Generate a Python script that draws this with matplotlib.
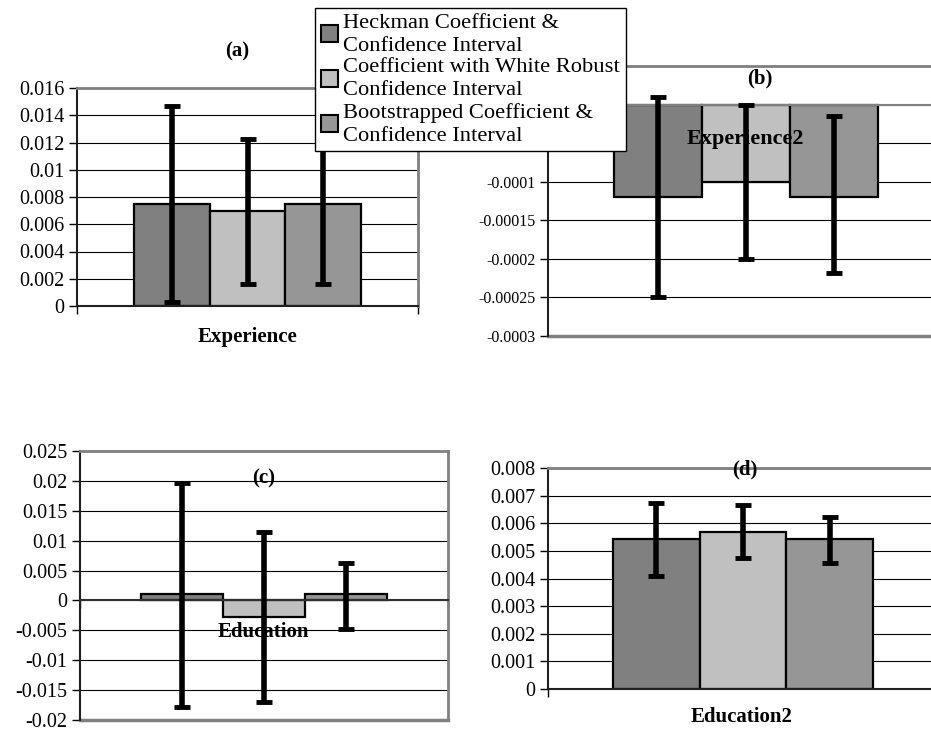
import numpy as np
import matplotlib
matplotlib.use('Agg')
import matplotlib.pyplot as plt
from matplotlib.ticker import MultipleLocator, FuncFormatter
from matplotlib.patches import Patch

series = ['Heckman Coefficient &\nConfidence Interval',
          'Coefficient with White Robust\nConfidence Interval',
          'Bootstrapped Coefficient &\nConfidence Interval']
colors = ['#808080', '#c0c0c0', '#969696']

# coefficient, lower bound, upper bound for each panel
exp_coef = [0.0075, 0.0070, 0.0075]
exp_lo = [0.00032, 0.00165, 0.00165]
exp_hi = [0.01468, 0.01228, 0.0131]

exp2_coef = [-0.00012, -0.00010, -0.00012]
exp2_lo = [-0.00025, -0.00020, -0.000218]
exp2_hi = [0.00001, 0.0, -0.000015]

edu_coef = [0.001, -0.0028, 0.001]
edu_lo = [-0.0178, -0.0170, -0.00485]
edu_hi = [0.0197, 0.01143, 0.0063]

edu2_coef = [0.00542, 0.00569, 0.00542]
edu2_lo = [0.0041, 0.00475, 0.00457]
edu2_hi = [0.00672, 0.00667, 0.00624]

W, H = 931, 729
plt.rcParams['font.family'] = ['Liberation Serif', 'DejaVu Serif']

fig = plt.figure(figsize=(W / 100, H / 100), dpi=100)


def px_axes(left, top, right, bottom):
    return fig.add_axes([left / W, 1 - bottom / H, (right - left) / W, (bottom - top) / H])


def fmt(v, pos):
    v = round(v, 7)
    if abs(v) < 1e-9:
        return '0'
    return np.format_float_positional(v, trim='-')


def panel(ax, coef, lo, hi, ylim, step, tick_size, zero_axis=False):
    x = np.array([-1.0, 0.0, 1.0])
    coef = np.array(coef)
    yerr = [coef - np.array(lo), np.array(hi) - coef]
    ax.bar(x, coef, width=1.0, color=colors, edgecolor='black', linewidth=1.6, zorder=2)
    ax.errorbar(x, coef, yerr=yerr, fmt='none', ecolor='black', elinewidth=4,
                capsize=6, capthick=3.5, zorder=3)
    ax.set_xlim(-2.25, 2.25)
    ax.set_ylim(*ylim)
    ax.yaxis.set_major_locator(MultipleLocator(step))
    ax.yaxis.set_major_formatter(FuncFormatter(fmt))
    ax.yaxis.grid(True, color='black', linewidth=0.8)
    ax.set_axisbelow(True)
    ax.tick_params(axis='y', direction='out', length=6, width=1, labelsize=tick_size, pad=3)
    ax.set_xticks([-2.25, 2.25])
    ax.set_xticklabels(['', ''])
    ax.tick_params(axis='x', direction='out', length=6, width=1)
    ax.spines['top'].set_color('#808080')
    ax.spines['top'].set_linewidth(2)
    ax.spines['right'].set_color('#808080')
    ax.spines['right'].set_linewidth(2)
    ax.spines['left'].set_color('#202020')
    ax.spines['left'].set_linewidth(1.5)
    if zero_axis:
        ax.spines['bottom'].set_position(('data', 0))
        ax.spines['bottom'].set_color('#303030')
        ax.spines['bottom'].set_linewidth(1.5)
        ax.axhline(ylim[0], color='#808080', linewidth=2.5, clip_on=False, zorder=1)
    else:
        ax.spines['bottom'].set_color('#202020')
        ax.spines['bottom'].set_linewidth(1.5)


ax_a = px_axes(77, 88, 418, 306)
panel(ax_a, exp_coef, exp_lo, exp_hi, (0, 0.016), 0.002, 14.5)

ax_b = px_axes(548, 66, 944, 336)
panel(ax_b, exp2_coef, exp2_lo, exp2_hi, (-0.0003, 0.00005), 0.00005, 11.5, zero_axis=True)
ax_b.spines['bottom'].set_color('#808080')

ax_c = px_axes(80, 451, 448, 720)
panel(ax_c, edu_coef, edu_lo, edu_hi, (-0.02, 0.025), 0.005, 14.5, zero_axis=True)

ax_d = px_axes(548, 468, 938, 689)
panel(ax_d, edu2_coef, edu2_lo, edu2_hi, (0, 0.008), 0.001, 14.5)


def ftext(x, y, s, size=15):
    fig.text(x / W, 1 - y / H, s, ha='center', va='center', fontsize=size,
             fontweight='bold', zorder=10)


ftext(237, 51, '(a)')
ftext(760, 78, '(b)')
ftext(264, 478, '(c)')
ftext(745, 469, '(d)')
ftext(247, 337, 'Experience')
ftext(745, 139, 'Experience2', size=16)
ftext(263, 632, 'Education')
ftext(742, 717, 'Education2')

handles = [Patch(facecolor=c, edgecolor='black', linewidth=1.5) for c in colors]
leg = fig.legend(handles, series, loc='upper left',
                 bbox_to_anchor=(315 / W, 1 - 8 / H), bbox_transform=fig.transFigure,
                 fontsize=16.2, frameon=True, fancybox=False, shadow=False, framealpha=1,
                 borderaxespad=0, borderpad=0.25, labelspacing=0.12,
                 handlelength=0.75, handleheight=0.75, handletextpad=0.25)
leg.get_frame().set_edgecolor('black')
leg.get_frame().set_linewidth(1)
leg.set_zorder(20)
for t in leg.get_texts():
    t.set_linespacing(1.28)

fig.savefig('out.png', dpi=100)
